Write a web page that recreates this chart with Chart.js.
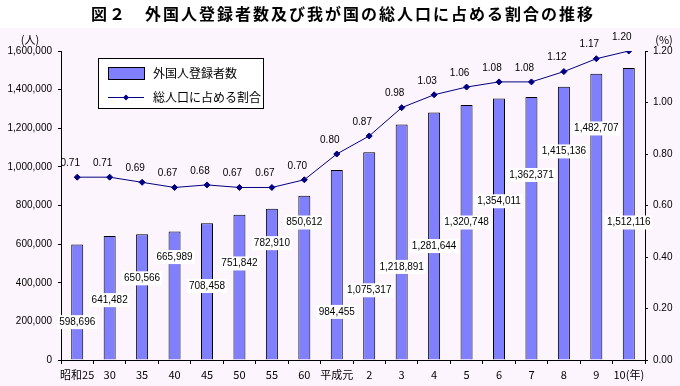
<!DOCTYPE html>
<html>
<head>
<meta charset="utf-8">
<script src="https://cdn.jsdelivr.net/npm/chart.js@4/dist/chart.umd.min.js"></script>
<style>
  html, body { margin: 0; padding: 0; background: #fff; }
  #wrap { width: 680px; height: 386px; }
</style>
</head>
<body>
<div id="wrap"><canvas id="chart" width="680" height="386"></canvas></div>
<script>
// 図２ data
const categories = ['昭和25', '30', '35', '40', '45', '50', '55', '60', '平成元',
    '2', '3', '4', '5', '6', '7', '8', '9', '10(年)'];
const registered = [598696, 641482, 650566, 665989, 708458, 751842, 782910, 850612, 984455,
    1075317, 1218891, 1281644, 1320748, 1354011, 1362371, 1415136, 1482707, 1512116];
const ratio = [0.71, 0.71, 0.69, 0.67, 0.68, 0.67, 0.67, 0.70, 0.80,
    0.87, 0.98, 1.03, 1.06, 1.08, 1.08, 1.12, 1.17, 1.20];

const TITLE = '図２　外国人登録者数及び我が国の総人口に占める割合の推移';
const JP = '"Noto Sans CJK JP", sans-serif';
const NUM = '"Liberation Sans", Arial, sans-serif';

// where the value labels of the bars sit (left axis units), as placed in the original
const barLabelAt = [196000, 310000, 423000, 533000, 383000, 500000, 605000, 712000, 249000,
    361000, 482000, 590000, 712000, 822000, 958000, 1080000, 1199000, 712000];

const decorations = {
    id: 'decorations',
    beforeDraw(chart) {
        const ctx = chart.ctx;
        ctx.save();
        ctx.fillStyle = '#fff';
        ctx.fillRect(0, 0, chart.width, chart.height);
        ctx.fillStyle = '#fdf5fd';
        ctx.fillRect(0, 28, chart.width, chart.height - 28);
        ctx.restore();
    },
    afterDatasetsDraw(chart) {
        const ctx = chart.ctx;
        const yScale = chart.scales.y;
        ctx.save();

        // bar value labels
        ctx.font = '10px ' + NUM;
        ctx.textAlign = 'center';
        ctx.textBaseline = 'middle';
        chart.getDatasetMeta(0).data.forEach((bar, i) => {
            const text = registered[i].toLocaleString('en-US');
            const y = yScale.getPixelForValue(barLabelAt[i]);
            const w = ctx.measureText(text).width + 4;
            ctx.fillStyle = '#fff';
            ctx.fillRect(bar.x - w / 2, y - 7, w, 14);
            ctx.fillStyle = '#000';
            ctx.fillText(text, bar.x, y);
        });

        // line value labels
        chart.getDatasetMeta(1).data.forEach((pt, i) => {
            ctx.fillText(ratio[i].toFixed(2), pt.x - 7, pt.y - 14);
        });

        // legend
        ctx.fillStyle = '#fff';
        ctx.fillRect(98, 58, 165, 50);
        ctx.strokeStyle = '#000';
        ctx.lineWidth = 1;
        ctx.strokeRect(98.5, 58.5, 165, 50);
        ctx.fillStyle = '#8080ff';
        ctx.fillRect(108, 67, 36, 12);
        ctx.strokeRect(108.5, 67.5, 36, 12);
        ctx.strokeStyle = '#000080';
        ctx.beginPath();
        ctx.moveTo(108, 97.5);
        ctx.lineTo(144, 97.5);
        ctx.stroke();
        ctx.fillStyle = '#000080';
        ctx.beginPath();
        ctx.moveTo(126, 94.5); ctx.lineTo(129, 97.5); ctx.lineTo(126, 100.5); ctx.lineTo(123, 97.5);
        ctx.closePath();
        ctx.fill();
        ctx.fillStyle = '#000';
        ctx.font = '12px ' + JP;
        ctx.textAlign = 'left';
        ctx.fillText(chart.data.datasets[0].label, 153, 73);
        ctx.fillText(chart.data.datasets[1].label, 153, 97);

        // units
        ctx.font = '11px ' + JP;
        ctx.textAlign = 'center';
        ctx.fillText('(人)', 30, 40);
        ctx.fillText('(%)', 664, 40);

        // title
        ctx.font = 'bold 16px ' + JP;
        ctx.letterSpacing = '2px';
        ctx.fillText(TITLE, 343, 14);
        ctx.restore();
    }
};

new Chart(document.getElementById('chart'), {
    data: {
        labels: categories,
        datasets: [
            {
                type: 'bar',
                label: '外国人登録者数',
                data: registered,
                yAxisID: 'y',
                backgroundColor: '#8080ff',
                borderColor: '#000',
                borderWidth: 1,
                barPercentage: 0.37,
                categoryPercentage: 1,
                order: 2
            },
            {
                type: 'line',
                label: '総人口に占める割合',
                data: ratio,
                yAxisID: 'y1',
                borderColor: '#000080',
                borderWidth: 1,
                pointStyle: 'rectRot',
                pointRadius: 3,
                pointBackgroundColor: '#000080',
                pointBorderColor: '#000080',
                tension: 0,
                order: 1
            }
        ]
    },
    options: {
        responsive: false,
        animation: false,
        layout: { padding: { top: 51, left: 0, right: 0, bottom: 0 } },
        plugins: {
            legend: { display: false },
            title: { display: false },
            tooltip: { enabled: false }
        },
        scales: {
            x: {
                offset: true,
                grid: { display: true, drawOnChartArea: false, offset: true, tickLength: 4, color: '#000' },
                border: { color: '#000' },
                ticks: { color: '#000', font: { size: 11, family: JP }, maxRotation: 0, autoSkip: false, padding: 4 },
                afterFit(s) { s.height = 26; }
            },
            y: {
                position: 'left',
                min: 0,
                max: 1600000,
                grid: { drawOnChartArea: false, tickLength: 3, color: '#000' },
                border: { color: '#000' },
                ticks: {
                    stepSize: 200000,
                    color: '#000',
                    font: { size: 10, family: NUM },
                    padding: 6,
                    callback: v => v.toLocaleString('en-US')
                },
                afterFit(s) { s.width = 61; }
            },
            y1: {
                position: 'right',
                min: 0,
                max: 1.2,
                grid: { drawOnChartArea: false, tickLength: 3, color: '#000' },
                border: { color: '#000' },
                ticks: {
                    stepSize: 0.2,
                    color: '#000',
                    font: { size: 10, family: NUM },
                    padding: 5,
                    callback: v => Number(v).toFixed(2)
                },
                afterFit(s) { s.width = 35; }
            }
        }
    },
    plugins: [decorations]
});
</script>
</body>
</html>
